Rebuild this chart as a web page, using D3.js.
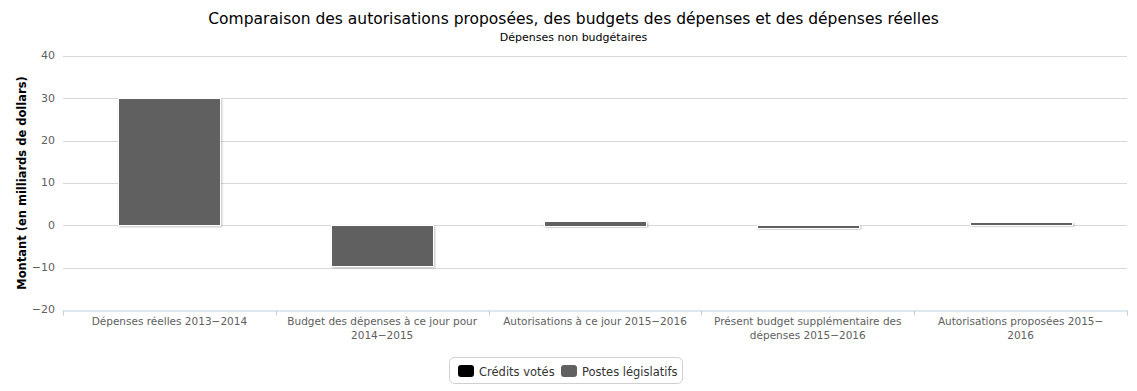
<!DOCTYPE html>
<html><head><meta charset="utf-8">
<script src="https://cdn.jsdelivr.net/npm/d3@7"></script>
<style>body{margin:0;background:#fff}svg{display:block}</style>
</head><body>
<script>
const categories = [
  "Dépenses réelles 2013-2014",
  "Budget des dépenses à ce jour pour 2014-2015",
  "Autorisations à ce jour 2015-2016",
  "Présent budget supplémentaire des dépenses 2015-2016",
  "Autorisations proposées 2015-2016"
];
const creditsVotes = [0, 0, 0, 0, 0];
const postesLegislatifs = [30.0, -9.8, 1.1, -0.6, 0.7];
const yTicks = [-20, -10, 0, 10, 20, 30, 40];
const seriesNames = ["Crédits votés", "Postes législatifs"];
const seriesColors = ["#000000", "#606060"];
const title = "Comparaison des autorisations proposées, des budgets des dépenses et des dépenses réelles";
const subtitle = "Dépenses non budgétaires";
const yTitle = "Montant (en milliards de dollars)";

const W = 1137, H = 391;
const m = {l: 63, r: 10, t: 56, b: 81};
const font = "'DejaVu Sans', sans-serif";
const svg = d3.select("body").append("svg").attr("width", W).attr("height", H);

const defs = svg.append("defs");
const f = defs.append("filter").attr("id","sh").attr("x","-10%").attr("y","-10%").attr("width","130%").attr("height","130%");
f.append("feDropShadow").attr("dx",1).attr("dy",1).attr("stdDeviation",1).attr("flood-color","#000").attr("flood-opacity",0.25);

const x = d3.scaleBand().domain(categories).range([m.l, W - m.r]);
const y = d3.scaleLinear().domain([-20, 40]).range([H - m.b, m.t]);

// gridlines
svg.append("g").selectAll("line").data(yTicks.filter(t => t !== -20)).join("line")
  .attr("x1", m.l).attr("x2", W - m.r)
  .attr("y1", d => Math.round(y(d)) + 0.5).attr("y2", d => Math.round(y(d)) + 0.5)
  .attr("stroke", "#d8d8d8").attr("stroke-width", 1);

// y labels
const ya = d3.axisLeft(y).tickValues(yTicks).tickSize(0).tickPadding(8).tickFormat(d => d < 0 ? "\u2212" + Math.abs(d) : d);
const yg = svg.append("g").attr("transform", `translate(${m.l},0)`).call(ya);
yg.select(".domain").remove();
yg.selectAll("text").attr("font-family", font).attr("font-size", 11).attr("fill", "#606060").attr("dy","0.35em").attr("y",-1);

// x axis
const xa = d3.axisBottom(x).tickSize(0).tickFormat("");
const xg = svg.append("g").attr("transform", `translate(0,${Math.round(y(-20)) + 0.5})`).call(xa);
xg.select(".domain").attr("stroke", "#c0d0e0");
const edges = categories.map(c => x(c)).concat([W - m.r]);
xg.selectAll(".tk").data(edges).join("line").attr("class","tk")
  .attr("x1", d => Math.round(d) + 0.5).attr("x2", d => Math.round(d) + 0.5)
  .attr("y1", 0).attr("y2", 5).attr("stroke", "#c0d0e0");

function wrap(text, width) {
  const words = text.split(/\s+/); const lines = []; let cur = "";
  const ctx = document.createElement("canvas").getContext("2d");
  ctx.font = "10.5px DejaVu Sans";
  for (const w of words) {
    const t = cur ? cur + " " + w : w;
    if (ctx.measureText(t).width > width && cur) { lines.push(cur); cur = w; } else cur = t;
  }
  lines.push(cur); return lines;
}
const xl = svg.append("g");
categories.forEach(c => {
  let lines;
  if (c === "Autorisations proposées 2015-2016") lines = ["Autorisations proposées 2015-", "2016"];
  else if (c.startsWith("Budget")) lines = ["Budget des dépenses à ce jour pour", "2014-2015"];
  else if (c.startsWith("Présent")) lines = ["Présent budget supplémentaire des", "dépenses 2015-2016"];
  else lines = wrap(c, 200);
  const t = xl.append("text").attr("x", x(c) + x.bandwidth()/2).attr("y", 325)
    .attr("text-anchor","middle").attr("font-family", font).attr("font-size", 10.5).attr("fill","#606060");
  lines.forEach((ln, i) => t.append("tspan").attr("x", x(c) + x.bandwidth()/2).attr("dy", i ? 14 : 0).text(ln.replace(/-/g, "\u2212")));
});

// bars (stacked)
const bw = x.bandwidth() * 0.48;
const stackData = categories.map((c, i) => ({c, vals: [creditsVotes[i], postesLegislatifs[i]]}));
const bars = svg.append("g");
stackData.forEach(d => {
  let pos = 0, neg = 0;
  [1, 0].forEach(si => {
    const v = d.vals[si];
    if (v === 0) return;
    let y0, y1;
    if (v >= 0) { y0 = pos; y1 = pos + v; pos = y1; } else { y0 = neg; y1 = neg + v; neg = y1; }
    const top = y(Math.max(y0, y1)), bot = y(Math.min(y0, y1));
    bars.append("rect")
      .attr("x", Math.round(x(d.c) + (x.bandwidth() - bw)/2) + 0.5)
      .attr("y", Math.round(top) + 0.5)
      .attr("width", Math.round(bw))
      .attr("height", Math.max(1, Math.round(bot - top)))
      .attr("fill", seriesColors[si]).attr("stroke", "#fff").attr("stroke-width", 1)
      .attr("filter", "url(#sh)");
  });
});

// titles
svg.append("text").attr("x", W/2 + 5).attr("y", 24).attr("text-anchor","middle")
  .attr("font-family", font).attr("font-size", 15.5).attr("fill","#000").text(title);
svg.append("text").attr("x", W/2 + 5).attr("y", 41).attr("text-anchor","middle")
  .attr("font-family", font).attr("font-size", 11).attr("fill","#000").text(subtitle);
svg.append("text").attr("transform", `translate(26,${(m.t + H - m.b)/2}) rotate(-90)`).attr("text-anchor","middle")
  .attr("font-family", font).attr("font-size", 11.5).attr("font-weight","bold").attr("fill","#000").text(yTitle);

// legend
const lg = svg.append("g");
lg.append("rect").attr("x", 449.5).attr("y", 357.5).attr("width", 233).attr("height", 26).attr("rx", 5)
  .attr("fill","#fff").attr("stroke","#d0d0d0");
const lx = [458, 561];
seriesNames.forEach((n, i) => {
  lg.append("rect").attr("x", lx[i]).attr("y", 365).attr("width", 16).attr("height", 12).attr("rx", 3).attr("fill", seriesColors[i]);
  lg.append("text").attr("x", lx[i] + 21).attr("y", 375.5).attr("font-family", font).attr("font-size", 11.5).attr("fill","#333").text(n);
});
</script>
</body></html>
